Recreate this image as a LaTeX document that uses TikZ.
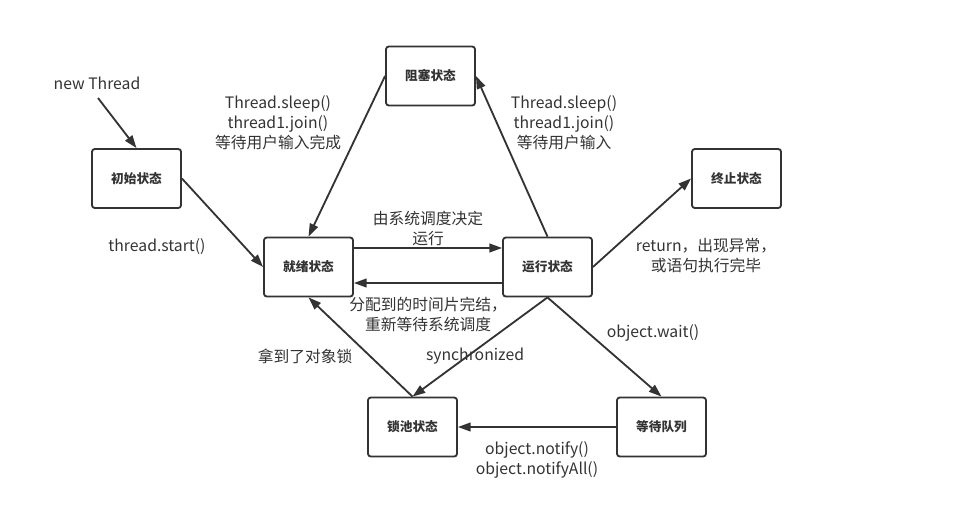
\documentclass[tikz,border=0pt]{standalone}
\usepackage{fontspec}
\setmainfont{Noto Sans CJK SC}
\usetikzlibrary{arrows.meta}
\definecolor{linegray}{HTML}{333333}

\begin{document}
\begin{tikzpicture}[x=0.025cm, y=-0.025cm, line width=1.3pt, color=linegray,
        >={Triangle[length=3.2mm, width=2.2mm]}]
            \useasboundingbox (0,0) rectangle (954,506);
            {
                \tikzset{every node/.style = {shape=rectangle, draw, rounded corners=2pt, minimum width=2.225cm, minimum height=1.475cm, inner sep=0pt, font=\bfseries\fontsize{9}{11}\selectfont}}

                \node (init) at (136.5, 178.5) {初始状态};
                \node (block) at (430.5, 76) {阻塞状态};
                \node (ready) at (308.5, 267) {就绪状态};
                \node (run) at (547.5, 267) {运行状态};
                \node (term) at (736.5, 178.5) {终止状态};
                \node (lock) at (412.5, 427) {锁池状态};
                \node (wait) at (661.5, 427) {等待队列};
            }
            \tikzset{lbl/.style = {align=center, inner sep=1pt, font=\fontsize{11.2}{14.2}\selectfont}}

            % free labels
            \node[lbl] (newlbl) at (97, 83) {new Thread};
            \node[lbl] (startlbl) at (157, 247) {thread.start()};
            \node[lbl] (sleeplbl) at (278, 123) {Thread.sleep()\\thread1.join()\\等待用户输入完成};
            \node[lbl] (blocklbl) at (564, 123) {Thread.sleep()\\thread1.join()\\等待用户输入};
            \node[lbl] (termlbl) at (706, 256) {return，出现异常，\\或语句执行完毕};
            \node[lbl] (synclbl) at (475, 356) {synchronized};
            \node[lbl] (waitlbl) at (653, 333) {object.wait()};
            \node[lbl] (notifylbl) at (537, 460) {object.notify()\\object.notifyAll()};
            \node[lbl] (locklbl) at (305, 356) {拿到了对象锁};

            \coordinate (newt) at (98, 98);
            \draw (newt) edge[->] (init.north);
            \draw (init.east) edge[->] (ready.west);
            \draw (block.west) edge[->] (ready.north);
            \draw (run.north) edge[->] (block.east);

            % the two arrows between ready and run
            \draw ([yshift=0.475cm]ready.east) edge[->] node[lbl, above, midway] {由系统调度决定\\运行} ([yshift=0.475cm]run.west);
            \draw ([yshift=-0.4cm]run.west) edge[->] node[lbl, below, midway, yshift=-0.3cm] {分配到的时间片完结，\\重新等待系统调度} ([yshift=-0.4cm]ready.east);

            \draw (run.east) edge[->] (term.west);
            \draw (run.south) edge[->] (lock.north);
            \draw (run.south) edge[->] (wait.north);
            \draw (wait.west) edge[->] (lock.east);
            \draw (lock.north) edge[->] (ready.south);

        \end{tikzpicture}
\end{document}
